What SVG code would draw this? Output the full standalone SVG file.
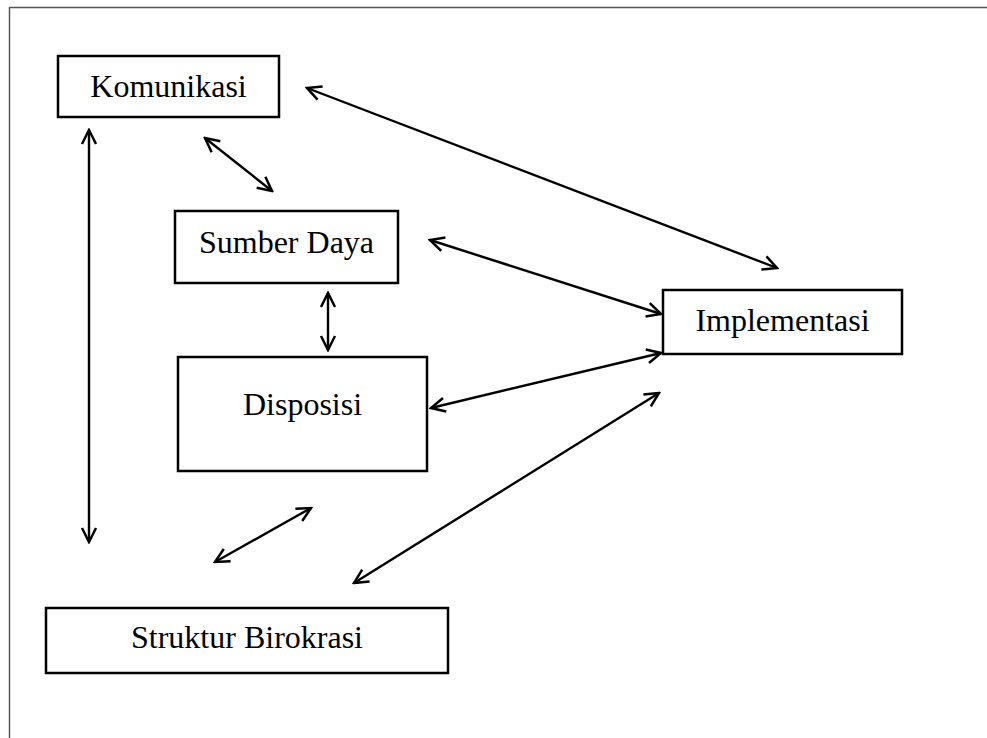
<svg xmlns="http://www.w3.org/2000/svg" width="987" height="738" viewBox="0 0 987 738">
<style>
.box{fill:#fff;stroke:#000;stroke-width:2.5}
.lbl{font-family:"Liberation Serif","Times New Roman",serif;font-size:32px;fill:#000;text-anchor:middle}
.con{stroke:#000;stroke-width:2.4;fill:none;marker-start:url(#ah);marker-end:url(#ah)}
</style>
<defs>
<marker id="ah" viewBox="-2 -9 18 18" refX="14" refY="0" markerWidth="18" markerHeight="18" markerUnits="userSpaceOnUse" orient="auto-start-reverse">
<path d="M0,-7 L14,0 L0,7" fill="none" stroke="#000" stroke-width="2.5"/>
</marker>
</defs>
<rect width="987" height="738" fill="#fff"/>
<path d="M9.5,738 L9.5,7.5 L987,7.5" fill="none" stroke="#555" stroke-width="1.5"/>
<g id="connectors">
<line class="con" x1="89" y1="130" x2="89" y2="542"/>
<line class="con" x1="205" y1="138" x2="272" y2="191"/>
<line class="con" x1="307" y1="88" x2="777" y2="268"/>
<line class="con" x1="430" y1="240" x2="661" y2="314"/>
<line class="con" x1="328" y1="293" x2="328" y2="350"/>
<line class="con" x1="431" y1="408" x2="661" y2="353"/>
<line class="con" x1="659" y1="393" x2="354" y2="583"/>
<line class="con" x1="311" y1="508" x2="215" y2="562"/>
</g>
<g id="komunikasi"><rect class="box" x="58" y="56" width="221" height="61"/><text class="lbl" x="168.5" y="97">Komunikasi</text></g>
<g id="sumber-daya"><rect class="box" x="175" y="211" width="223" height="72"/><text class="lbl" x="286.5" y="253">Sumber Daya</text></g>
<g id="disposisi"><rect class="box" x="178" y="357" width="249" height="114"/><text class="lbl" x="302.5" y="415">Disposisi</text></g>
<g id="implementasi"><rect class="box" x="663" y="290" width="239" height="64"/><text class="lbl" x="782.5" y="331">Implementasi</text></g>
<g id="struktur-birokrasi"><rect class="box" x="46" y="608" width="402" height="65"/><text class="lbl" x="247" y="648">Struktur Birokrasi</text></g>
</svg>
